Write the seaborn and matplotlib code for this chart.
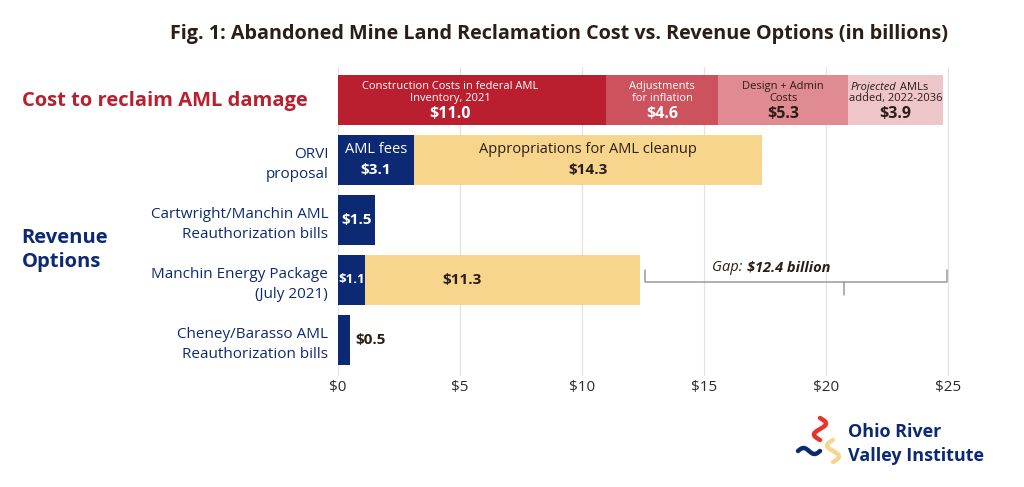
import numpy as np
import pandas as pd
import matplotlib.pyplot as plt
from matplotlib.lines import Line2D
import seaborn as sns

# rows of the chart (first row is the cost bar)
rows = ["cost", "orvi", "cartwright", "manchin", "cheney"]
tick_labels = ["", "ORVI\nproposal", "Cartwright/Manchin AML\nReauthorization bills",
               "Manchin Energy Package\n(July 2021)", "Cheney/Barasso AML\nReauthorization bills"]

# values in billions
cost_parts = [11.0, 4.6, 5.3, 3.9]
cost_names = ["Construction Costs in federal AML\nInventory, 2021", "Adjustments\nfor inflation",
              "Design + Admin\nCosts"]
aml_fees = [3.1, 1.5, 1.1, 0.5]
appropriations = [14.3, 0.0, 11.3, 0.0]
xticks = [0, 5, 10, 15, 20, 25]

NAVY = "#0c2a74"
YELLOW = "#f8d58c"
REDS = ["#b91f2e", "#cc525d", "#df8b91", "#eec5c9"]
DARK = "#2a1e16"

layers = np.array([
    [cost_parts[0]] + aml_fees,
    [cost_parts[1]] + appropriations,
    [cost_parts[2], 0, 0, 0, 0],
    [cost_parts[3], 0, 0, 0, 0],
])
cum = layers.cumsum(axis=0)
fill = [YELLOW if a > 0 else NAVY for a in appropriations]
layer_colors = [
    [REDS[0]] + [NAVY] * 4,
    [REDS[1]] + fill,
    [REDS[2]] + fill,
    [REDS[3]] + fill,
]

sns.set_style("white")
plt.rcParams['font.family'] = ['Open Sans', 'DejaVu Sans']

fig, ax = plt.subplots(figsize=(10.24, 4.87), dpi=100)
fig.subplots_adjust(left=0.330, right=0.9375, top=0.8624, bottom=0.228)

for k in reversed(range(4)):
    df = pd.DataFrame({"row": rows, "end": cum[k]})
    sns.barplot(data=df, x="end", y="row", hue="row", order=rows, hue_order=rows,
                palette=layer_colors[k], dodge=False, width=0.83, legend=False,
                linewidth=0, saturation=1, ax=ax)

ax.set_xlim(0, 25.5)
ax.set_ylim(4.6, -0.55)
ax.set_xticks(xticks)
ax.set_xticklabels([f"${t}" for t in xticks], fontsize=11, color="#2a2a2a")
ax.set_yticks(range(len(rows)))
ax.set_yticklabels(tick_labels, fontsize=11, color=NAVY, linespacing=1.45)
ax.tick_params(axis="y", length=0, pad=7)
ax.tick_params(axis="x", length=0, pad=3)
ax.set_xlabel("")
ax.set_ylabel("")
ax.grid(axis="x", color="#e3e3e3", linewidth=0.9)
ax.set_axisbelow(True)
sns.despine(ax=ax, left=True, bottom=True)

# labels inside the cost bar
starts = np.concatenate([[0], np.cumsum(cost_parts)[:-1]])
txt_cols = ["white", "white", DARK, DARK]
centers = [s + v / 2 for s, v in zip(starts, cost_parts)]
centers[0] = 4.6
for i, v in enumerate(cost_parts):
    if i < 3:
        ax.text(centers[i], -0.12, cost_names[i], ha="center", va="center", fontsize=8,
                color=txt_cols[i], linespacing=1.15)
    ax.text(centers[i], 0.23, f"${v:.1f}", ha="center", va="center", fontsize=11.5,
            fontweight="bold", color=txt_cols[i])
ax.text(centers[3] + 0.05, -0.215, "Projected", ha="right", va="center", fontsize=8,
        style="italic", color=DARK)
ax.text(centers[3] + 0.05, -0.215, " AMLs", ha="left", va="center", fontsize=8, color=DARK)
ax.text(centers[3], -0.02, "added, 2022-2036", ha="center", va="center", fontsize=8, color=DARK)

# revenue labels
ax.text(aml_fees[0] / 2, 0.83, "AML fees", ha="center", va="center", fontsize=10.5, color="white")
ax.text(aml_fees[0] / 2, 1.17, f"${aml_fees[0]:.1f}", ha="center", va="center", fontsize=11,
        fontweight="bold", color="white")
mid = aml_fees[0] + appropriations[0] / 2
ax.text(mid, 0.83, "Appropriations for AML cleanup", ha="center", va="center", fontsize=10.5, color=DARK)
ax.text(mid, 1.17, f"${appropriations[0]:.1f}", ha="center", va="center", fontsize=11,
        fontweight="bold", color=DARK)
ax.text(aml_fees[1] / 2, 2, f"${aml_fees[1]:.1f}", ha="center", va="center", fontsize=11,
        fontweight="bold", color="white")
ax.text(aml_fees[2] / 2, 3, f"${aml_fees[2]:.1f}", ha="center", va="center", fontsize=9.5,
        fontweight="bold", color="white")
ax.text(5.1, 3, f"${appropriations[2]:.1f}", ha="center", va="center", fontsize=11,
        fontweight="bold", color=DARK)
ax.text(aml_fees[3] + 0.2, 4, f"${aml_fees[3]:.1f}", ha="left", va="center", fontsize=11,
        fontweight="bold", color=DARK)

# gap brace
total = sum(cost_parts)
manchin_total = aml_fees[2] + appropriations[2]
gap = total - manchin_total
x0, x1 = manchin_total + 0.2, total + 0.15
xm = x0 + (x1 - x0) * 0.66
ax.plot([x0, x0, x1, x1], [2.83, 3.04, 3.04, 2.83], color="#9a9a9a", lw=1.1,
        solid_joinstyle="round")
ax.plot([xm, xm], [3.04, 3.25], color="#9a9a9a", lw=1.1)
ax.text(16.75, 2.8, "Gap: ", ha="right", va="center", fontsize=10.5, style="italic", color=DARK)
ax.text(16.75, 2.8, f"${gap:.1f} billion", ha="left", va="center", fontsize=10.5,
        style="italic", fontweight="bold", color=DARK)

# titles and group labels
fig.text(0.926, 0.93, "Fig. 1: Abandoned Mine Land Reclamation Cost vs. Revenue Options (in billions)",
         ha="right", va="center", fontsize=14.2, fontweight="bold", color=DARK)
fig.text(0.021, 1 - 101 / 487, "Cost to reclaim AML damage", ha="left", va="center",
         fontsize=14.5, fontweight="bold", color=REDS[0])
fig.text(0.021, 1 - 250 / 487, "Revenue\nOptions", ha="left", va="center",
         fontsize=14.5, fontweight="bold", color=NAVY, linespacing=1.3)

# logo
fig.text(0.828, 1 - 432 / 487, "Ohio River", ha="left", va="center", fontsize=13,
         fontweight="bold", color=NAVY)
fig.text(0.828, 1 - 456 / 487, "Valley Institute", ha="left", va="center", fontsize=13,
         fontweight="bold", color=NAVY)
t = np.linspace(0, 1, 40)
W, H = 1024, 487
def squiggle(xs, ys, color):
    fig.add_artist(Line2D(np.array(xs) / W, 1 - np.array(ys) / H, color=color, lw=3.2,
                          solid_capstyle="round", transform=fig.transFigure))
squiggle(820 + 6 * np.sin(t * 2 * np.pi), 418 + 22 * t, "#e8322b")
squiggle(798 + 22 * t, 451 - 3 * np.sin(t * 2 * np.pi), NAVY)
squiggle(833 + 6 * np.sin(t * 2 * np.pi + np.pi), 440 + 22 * t, YELLOW)

fig.savefig("out.png", dpi=100, facecolor="white")
